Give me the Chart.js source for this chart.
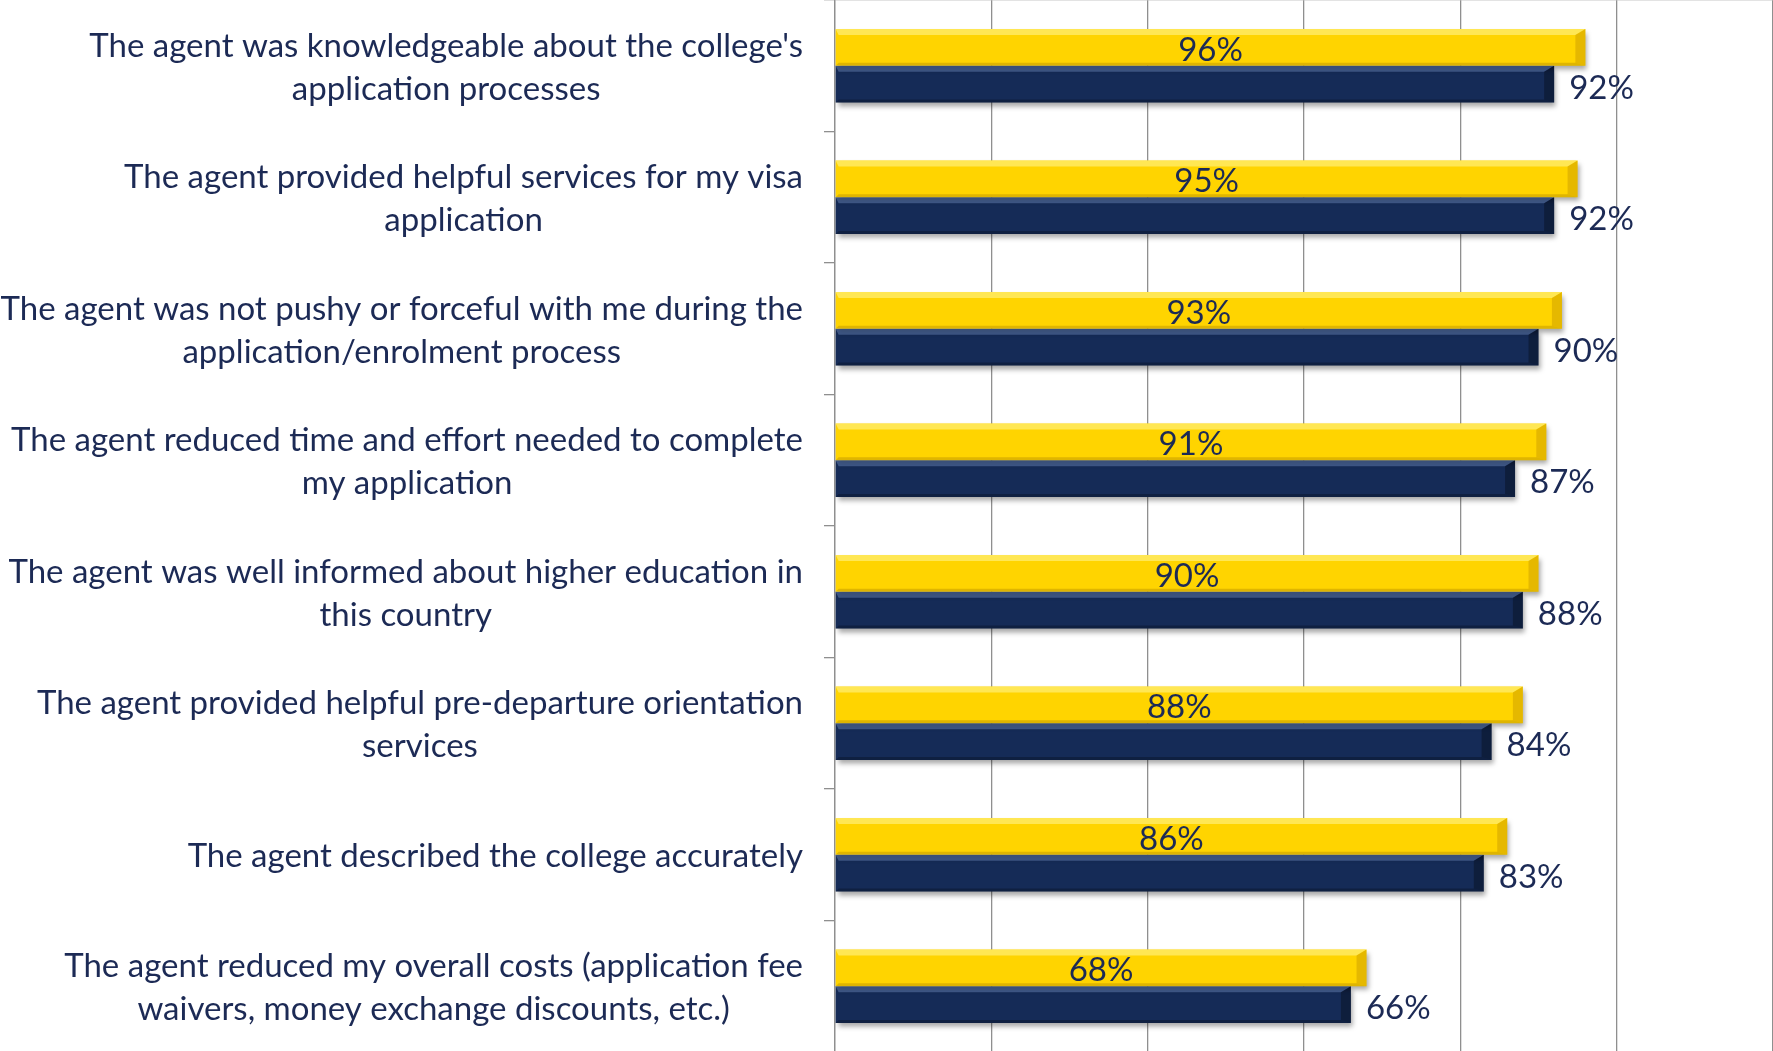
<!DOCTYPE html>
<html lang="en">
<head>
    <meta charset="UTF-8">
    <title>Agent Satisfaction</title>
    <script src="https://cdn.jsdelivr.net/npm/chart.js"></script>
    <style>
        html, body {
            margin: 0;
            padding: 0;
            background: #ffffff;
            overflow: hidden;
        }

        #chart-wrap {
            position: relative;
            width: 1773px;
            height: 1052px;
        }
    </style>
</head>
<body>
    <div id="chart-wrap">
        <canvas id="agentChart"></canvas>
    </div>

    <script>
        // Survey statements, one array of lines per category
        const statements = [
            ["The agent was knowledgeable about the college's", "application processes"],
            ["The agent provided helpful services for my visa", "application"],
            ["The agent was not pushy or forceful with me during the", "application/enrolment process"],
            ["The agent reduced time and effort needed to complete", "my application"],
            ["The agent was well informed about higher education in", "this country"],
            ["The agent provided helpful pre-departure orientation", "services"],
            ["The agent described the college accurately"],
            ["The agent reduced my overall costs (application fee", "waivers, money exchange discounts, etc.)"]
        ];

        // Percent agreeing, two groups
        const yellowValues = [96, 95, 93, 91, 90, 88, 86, 68];
        const navyValues = [92, 92, 90, 87, 88, 84, 83, 66];

        // Gridline positions on the value axis
        const axisTicks = [0, 20, 40, 60, 80, 100, 120];

        const textColor = '#1c2a55';
        const gridColor = '#8f8f8f';

        // Draws the wrapped statements: each block right-aligned to the axis, lines centered inside it
        const statementLabels = {
            id: 'statementLabels',
            afterDraw(chart) {
                const ctx = chart.ctx;
                const yScale = chart.scales.y;
                const rightEdge = 803;
                const lineHeight = 43;
                ctx.save();
                ctx.font = '33px Lato';
                ctx.fillStyle = textColor;
                ctx.textAlign = 'center';
                ctx.textBaseline = 'middle';
                chart.data.labels.forEach((lines, i) => {
                    const cy = yScale.getPixelForValue(i);
                    const w = Math.max(...lines.map(l => ctx.measureText(l).width));
                    const cx = rightEdge - w / 2;
                    lines.forEach((line, j) => {
                        ctx.fillText(line, cx, cy + (j - (lines.length - 1) / 2) * lineHeight + 2);
                    });
                });
                ctx.restore();
            }
        };

        // Drop shadow under the bars, bevelled faces and percentage labels
        const barFinish = {
            id: 'barFinish',
            beforeDatasetsDraw(chart) {
                const ctx = chart.ctx;
                ctx.save();
                ctx.shadowColor = 'rgba(0, 0, 0, 0.35)';
                ctx.shadowBlur = 5;
                ctx.shadowOffsetX = 2;
                ctx.shadowOffsetY = 4;
            },
            afterDatasetsDraw(chart) {
                const ctx = chart.ctx;
                ctx.restore();

                const faces = [
                    { top: 'rgba(255, 240, 120, 0.7)', right: 'rgba(170, 120, 0, 0.3)', bottom: 'rgba(150, 110, 0, 0.3)' },
                    { top: 'rgba(110, 140, 190, 0.45)', right: 'rgba(0, 0, 0, 0.3)', bottom: 'rgba(0, 0, 0, 0.25)' }
                ];

                chart.data.datasets.forEach((ds, di) => {
                    const meta = chart.getDatasetMeta(di);
                    const f = faces[di];
                    meta.data.forEach((el, i) => {
                        const top = el.y - el.height / 2;
                        const bot = el.y + el.height / 2;
                        const left = Math.min(el.base, el.x);
                        const right = Math.max(el.base, el.x);

                        // top facet
                        ctx.fillStyle = f.top;
                        ctx.beginPath();
                        ctx.moveTo(left, top);
                        ctx.lineTo(right, top);
                        ctx.lineTo(right - 10, top + 6);
                        ctx.lineTo(left + 3, top + 6);
                        ctx.closePath();
                        ctx.fill();

                        // bottom facet
                        ctx.fillStyle = f.bottom;
                        ctx.beginPath();
                        ctx.moveTo(left, bot);
                        ctx.lineTo(right, bot);
                        ctx.lineTo(right - 10, bot - 3);
                        ctx.lineTo(left + 3, bot - 3);
                        ctx.closePath();
                        ctx.fill();

                        // right end facet
                        ctx.fillStyle = f.right;
                        ctx.beginPath();
                        ctx.moveTo(right - 10, top + 6);
                        ctx.lineTo(right, top);
                        ctx.lineTo(right, bot);
                        ctx.lineTo(right - 10, bot - 3);
                        ctx.closePath();
                        ctx.fill();

                        // value label
                        ctx.save();
                        ctx.font = '33px Lato';
                        ctx.fillStyle = textColor;
                        ctx.textBaseline = 'middle';
                        const text = ds.data[i] + '%';
                        if (di === 0) {
                            ctx.textAlign = 'center';
                            ctx.fillText(text, (left + right) / 2, el.y + 3);
                        } else {
                            ctx.textAlign = 'left';
                            ctx.fillText(text, right + 15, el.y + 4);
                        }
                        ctx.restore();
                    });
                });
            }
        };

        const ctx = document.getElementById('agentChart').getContext('2d');
        const agentChart = new Chart(ctx, {
            type: 'bar',
            data: {
                labels: statements,
                datasets: [
                    {
                        label: 'Group A',
                        data: yellowValues,
                        backgroundColor: '#ffd400',
                        borderWidth: 0
                    },
                    {
                        label: 'Group B',
                        data: navyValues,
                        backgroundColor: '#152b57',
                        borderWidth: 0
                    }
                ]
            },
            options: {
                indexAxis: 'y',
                responsive: true,
                maintainAspectRatio: false,
                animation: false,
                layout: { padding: 0 },
                datasets: {
                    bar: {
                        categoryPercentage: 0.56,
                        barPercentage: 1.0
                    }
                },
                plugins: {
                    legend: { display: false },
                    tooltip: { enabled: false }
                },
                scales: {
                    x: {
                        position: 'top',
                        min: 0,
                        max: 120,
                        afterBuildTicks(scale) {
                            scale.ticks = axisTicks.map(v => ({ value: v }));
                        },
                        ticks: { display: false },
                        grid: {
                            color: gridColor,
                            lineWidth: 1.3,
                            drawTicks: false
                        },
                        border: { display: true, color: gridColor, width: 1.3 }
                    },
                    y: {
                        afterFit(scale) {
                            scale.width = 835;
                        },
                        ticks: { display: false },
                        grid: {
                            offset: true,
                            drawOnChartArea: false,
                            drawTicks: true,
                            tickLength: 11,
                            color: gridColor,
                            lineWidth: 1.3
                        },
                        border: { display: true, color: gridColor, width: 1.3 }
                    }
                }
            },
            plugins: [barFinish, statementLabels]
        });
    </script>
</body>
</html>
